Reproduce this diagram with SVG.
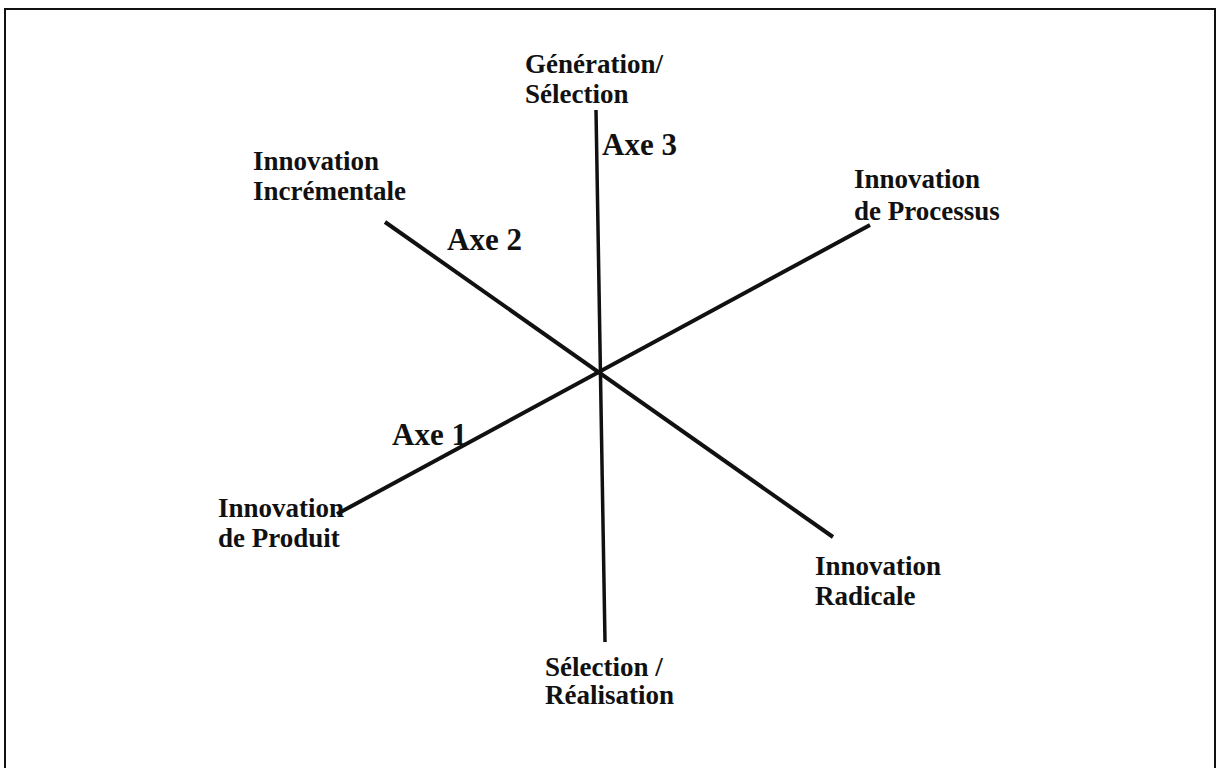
<svg xmlns="http://www.w3.org/2000/svg" width="1220" height="768" viewBox="0 0 1220 768">
<style>
.lbl{font-family:"Liberation Serif","Times New Roman",serif;font-weight:bold;font-size:27px;fill:#111}
.axe{font-family:"Liberation Serif","Times New Roman",serif;font-weight:bold;font-size:31px;fill:#111}
.ax{stroke:#111;stroke-width:4;stroke-linecap:butt;fill:none}
</style>
<rect x="0" y="0" width="1220" height="768" fill="#fff"/>
<rect x="5" y="9" width="1210" height="780" fill="none" stroke="#111" stroke-width="2"/>
<g id="connectors">
<line class="ax" x1="596" y1="110" x2="605" y2="642" style="stroke-width:3.5"/>
<line class="ax" x1="385" y1="222" x2="833" y2="537"/>
<line class="ax" x1="337" y1="514" x2="870" y2="225"/>
</g>
<g id="gen-sel"><text class="lbl" x="525" y="73">Génération/</text><text class="lbl" x="525" y="103">Sélection</text></g>
<g id="axe3"><text class="axe" x="602" y="155">Axe 3</text></g>
<g id="incrementale"><text class="lbl" x="253" y="170">Innovation</text><text class="lbl" x="253" y="200">Incrémentale</text></g>
<g id="axe2"><text class="axe" x="447" y="250">Axe 2</text></g>
<g id="processus"><text class="lbl" x="854" y="188">Innovation</text><text class="lbl" x="854" y="220">de Processus</text></g>
<g id="axe1"><text class="axe" x="392" y="445">Axe 1</text></g>
<g id="produit"><text class="lbl" x="218" y="517">Innovation</text><text class="lbl" x="218" y="547">de Produit</text></g>
<g id="radicale"><text class="lbl" x="815" y="575">Innovation</text><text class="lbl" x="815" y="605">Radicale</text></g>
<g id="sel-real"><text class="lbl" x="545" y="676">Sélection /</text><text class="lbl" x="545" y="704">Réalisation</text></g>
</svg>
